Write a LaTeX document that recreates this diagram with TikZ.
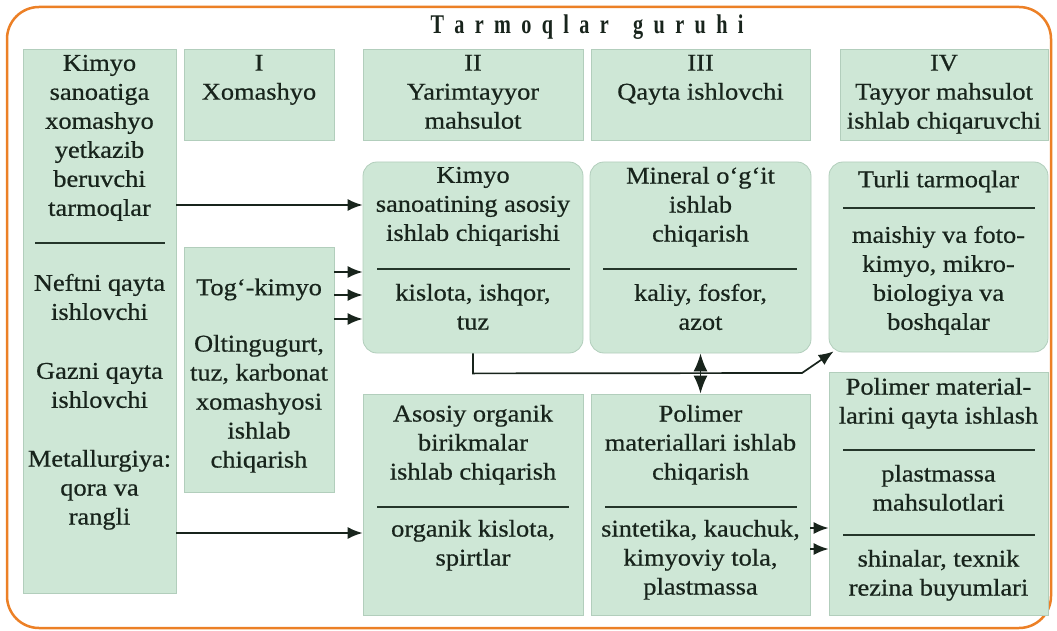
\documentclass[tikz,border=0pt]{standalone}
\usepackage{fontspec}
\setmainfont{Liberation Serif}[FakeStretch=1.1,FakeBold=0.6]
\newfontfamily\titlefont{Liberation Serif}[FakeStretch=0.75]
\usetikzlibrary{arrows.meta}
\definecolor{boxfill}{RGB}{206,231,214}
\definecolor{boxline}{RGB}{178,206,188}
\definecolor{ink}{RGB}{24,36,28}
\definecolor{rulec}{RGB}{36,54,42}
\definecolor{framec}{RGB}{236,128,38}
\begin{document}
\begin{tikzpicture}[x=1pt,y=-1pt,
  box/.style={draw=boxline, line width=0.8pt, fill=boxfill, inner sep=0pt},
  rbox/.style={box, rounded corners=14pt},
  txt/.style={anchor=north, yshift=20.3pt, align=center, inner sep=0pt, text=ink,
    font=\fontsize{24}{29}\selectfont, execute at begin node=\strut},
  sep/.style={draw=rulec, line width=1.8pt},
  arr/.style={draw=ink, line width=1.7pt, -{Latex[length=15pt,width=12pt]}},
  darr/.style={draw=ink, line width=1.7pt, {Latex[length=18pt,width=14pt]}-{Latex[length=18pt,width=14pt]}}]
\useasboundingbox (0,0) rectangle (1057,631);
% frame
\draw[framec, line width=2.5pt, rounded corners=32pt] (7,7) rectangle (1051,628);
% title
\node[anchor=base, text=ink] (title) at (587,34)
  {\titlefont\bfseries\fontsize{27}{30}\selectfont
   \makebox[313pt][s]{T\hfil a\hfil r\hfil m\hfil o\hfil q\hfil l\hfil a\hfil r\hskip 14pt plus 1fil g\hfil u\hfil r\hfil u\hfil h\hfil i}};
% boxes
\node[box, minimum width=153pt, minimum height=544pt] (left) at (99.5,321) {};
\node[box, minimum width=150pt, minimum height=91pt] (hI) at (259,94.5) {};
\node[box, minimum width=220pt, minimum height=91pt] (hII) at (473,94.5) {};
\node[box, minimum width=219pt, minimum height=91pt] (hIII) at (700.5,94.5) {};
\node[box, minimum width=208pt, minimum height=91pt] (hIV) at (944,94.5) {};
\node[box, minimum width=150pt, minimum height=245pt] (tog) at (259,369.5) {};
\node[rbox, minimum width=220pt, minimum height=191pt] (kimyo) at (473,257.5) {};
\node[rbox, minimum width=221pt, minimum height=191pt] (mineral) at (700.5,257.5) {};
\node[rbox, minimum width=219pt, minimum height=190pt] (turli) at (938.5,257) {};
\node[box, minimum width=220pt, minimum height=221pt] (asosiy) at (473,504.5) {};
\node[box, minimum width=219pt, minimum height=221pt] (polimer) at (700.5,504.5) {};
\node[box, minimum width=219pt, minimum height=243pt] (polqayta) at (938.5,493.5) {};
% texts
\node[txt] (tL1) at (99.5,75) {Kimyo\\sanoatiga\\xomashyo\\yetkazib\\beruvchi\\tarmoqlar};
\draw[sep] (35,243) -- (165,243);
\node[txt] (tL2) at (99.5,294) {Neftni qayta\\ishlovchi};
\node[txt] (tL3) at (99.5,383) {Gazni qayta\\ishlovchi};
\node[txt] (tL4) at (99.5,470) {Metallurgiya:\\qora va\\rangli};
\node[txt] (tI) at (259,75) {I\\Xomashyo};
\node[txt] (tII) at (473,75) {II\\Yarimtayyor\\mahsulot};
\node[txt] (tIII) at (700.5,75) {III\\Qayta ishlovchi};
\node[txt] (tIV) at (944,75) {IV\\Tayyor mahsulot\\ishlab chiqaruvchi};
\node[txt] (tT1) at (259,295) {Tog‘-kimyo};
\node[txt] (tT2) at (259,355) {Oltingugurt,\\tuz, karbonat\\xomashyosi\\ishlab\\chiqarish};
\node[txt] (tK1) at (473,187) {Kimyo\\sanoatining asosiy\\ishlab chiqarishi};
\draw[sep] (377,269) -- (570,269);
\node[txt] (tK2) at (473,304) {kislota, ishqor,\\tuz};
\node[txt] (tM1) at (700.5,187) {Mineral o‘g‘it\\ishlab\\chiqarish};
\draw[sep] (603,269) -- (797,269);
\node[txt] (tM2) at (700.5,304) {kaliy, fosfor,\\azot};
\node[txt] (tU1) at (938.5,187) {Turli tarmoqlar};
\draw[sep] (843,208) -- (1035,208);
\node[txt] (tU2) at (938.5,246) {maishiy va foto-\\kimyo, mikro-\\biologiya va\\boshqalar};
\node[txt] (tA1) at (473,425) {Asosiy organik\\birikmalar\\ishlab chiqarish};
\draw[sep] (377,507) -- (569,507);
\node[txt] (tA2) at (473,540) {organik kislota,\\spirtlar};
\node[txt] (tP1) at (700.5,425) {Polimer\\materiallari ishlab\\chiqarish};
\draw[sep] (605,507) -- (797,507);
\node[txt] (tP2) at (700.5,540) {sintetika, kauchuk,\\kimyoviy tola,\\plastmassa};
\node[txt] (tQ1) at (938.5,398) {Polimer material-\\larini qayta ishlash};
\draw[sep] (843,450) -- (1035,450);
\node[txt] (tQ2) at (938.5,485) {plastmassa\\mahsulotlari};
\draw[sep] (843,535) -- (1035,535);
\node[txt] (tQ3) at (938.5,570) {shinalar, texnik\\rezina buyumlari};
% connectors
\draw[arr] (left.east |- 0,205) -- (kimyo.west |- 0,205);
\draw[arr] (tog.east |- 0,272) -- (kimyo.west |- 0,272);
\draw[arr] (tog.east |- 0,295) -- (kimyo.west |- 0,295);
\draw[arr] (tog.east |- 0,319) -- (kimyo.west |- 0,319);
\draw[arr] (left.east |- 0,533) -- (asosiy.west |- 0,533);
\draw[arr] (polimer.east |- 0,528) -- (polqayta.west |- 0,528);
\draw[arr] (polimer.east |- 0,549) -- (polqayta.west |- 0,549);
\draw[arr] (kimyo.south) -- ++(0,20) -- (802,373) -- ([shift={(5pt,1pt)}]turli.south west);
\draw[darr] (mineral.south) -- (polimer.north);
\end{tikzpicture}
\end{document}
